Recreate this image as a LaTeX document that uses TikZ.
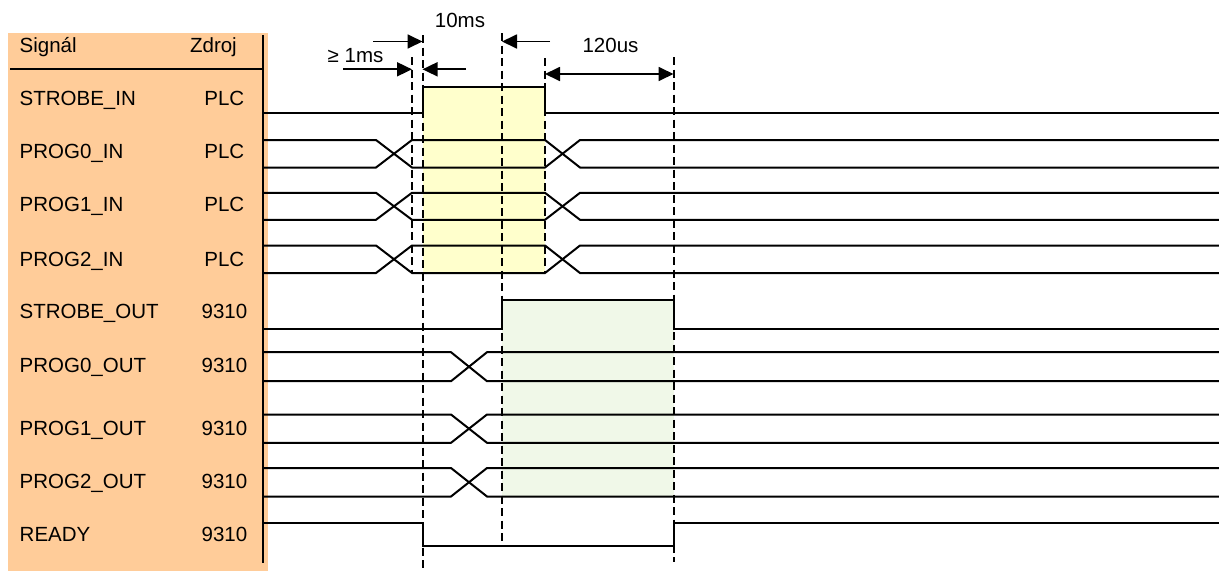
\documentclass[tikz,border=0pt]{standalone}
\usepackage{fontspec}
\setmainfont{Liberation Sans}
\usetikzlibrary{arrows.meta}
\definecolor{panel}{HTML}{FFCC99}
\definecolor{yfill}{HTML}{FFFFCC}
\definecolor{gfill}{RGB}{240,248,232}
\tikzset{
  sig/.style={line width=2pt, line join=miter},
  dash line/.style={line width=2pt, dash pattern=on 8pt off 4.5pt},
  lbl/.style={inner sep=0pt, anchor=base west, font=\fontsize{20.5}{24}\selectfont},
  src/.style={inner sep=0pt, anchor=base east, font=\fontsize{20.5}{24}\selectfont},
  tlbl/.style={inner sep=0pt, anchor=base, font=\fontsize{20.5}{24}\selectfont},
  dimarrow/.style={line width=1.8pt, -{Triangle[length=15pt,width=14pt]}},
  dimboth/.style={line width=1.8pt, {Triangle[length=15pt,width=14pt]}-{Triangle[length=15pt,width=14pt]}}
}
\begin{document}
\begin{tikzpicture}[x=1pt,y=-1pt]
\useasboundingbox (0,0) rectangle (1219,571);
% panel
\fill[panel] (8,33) rectangle (268,571);
\draw[line width=2pt] (10,69) -- (263,69);
\draw[line width=2.2pt] (263,35) -- (263,563);
% header
\node[lbl] (hsig) at (19.5,52) {Signál};
\node[src] (hsrc) at (237,52) {Zdroj};
% row labels
\node[lbl] (l1) at (19.5,105) {STROBE\_IN};
\node[lbl] (l2) at (19.5,158) {PROG0\_IN};
\node[lbl] (l3) at (19.5,211.5) {PROG1\_IN};
\node[lbl] (l4) at (19.5,266) {PROG2\_IN};
\node[lbl] (l5) at (19.5,318.5) {STROBE\_OUT};
\node[lbl] (l6) at (19.5,372) {PROG0\_OUT};
\node[lbl] (l7) at (19.5,435) {PROG1\_OUT};
\node[lbl] (l8) at (19.5,488) {PROG2\_OUT};
\node[lbl] (l9) at (19.5,541) {READY};
\node[src] (s1) at (244.5,105) {PLC};
\node[src] (s2) at (244.5,158) {PLC};
\node[src] (s3) at (244.5,211.5) {PLC};
\node[src] (s4) at (244.5,266) {PLC};
\node[src] (s5) at (247.5,318.5) {9310};
\node[src] (s6) at (247.5,372) {9310};
\node[src] (s7) at (247.5,435) {9310};
\node[src] (s8) at (247.5,488) {9310};
\node[src] (s9) at (247.5,541) {9310};
% fills
\fill[yfill] (422.5,86) rectangle (545,273);
\fill[gfill] (502,299.5) rectangle (673.5,497);
% STROBE_IN
\draw[sig] (263,112.8) -- (422.5,112.8) -- (422.5,86.5) -- (545,86.5) -- (545,113.3) -- (1219,113.3);
% input buses
\foreach \u/\l in {140/167.5, 192.8/219.8, 245.5/273} {
  \draw[sig] (263,\u) -- (376,\u) -- (412,\l) -- (545,\l) -- (580,\u) -- (1219,\u);
  \draw[sig] (263,\l) -- (376,\l) -- (412,\u) -- (545,\u) -- (580,\l) -- (1219,\l);
}
% STROBE_OUT
\draw[sig] (263,328.8) -- (502,328.8) -- (502,299.5) -- (673.5,299.5) -- (673.5,329) -- (1219,329);
% output buses
\foreach \u/\l in {352.2/381.2, 414.5/442.8, 468/496.5} {
  \draw[sig] (263,\u) -- (451,\u) -- (487,\l) -- (1219,\l);
  \draw[sig] (263,\l) -- (451,\l) -- (487,\u) -- (1219,\u);
}
% READY
\draw[sig] (263,522.7) -- (422.5,522.7) -- (422.5,546) -- (673.5,546) -- (673.5,522.7) -- (1219,522.7);
% dashed guides
\draw[dash line] (412,57) -- (412,273);
\draw[dash line] (422.5,35) -- (422.5,571);
\draw[dash line] (502,33) -- (502,547);
\draw[dash line] (545,58) -- (545,273);
\draw[dash line] (673.5,57) -- (673.5,562);
% dimension arrows
\coordinate (a1s) at (373,41.5);
\coordinate (a1e) at (422.5,41.5);
\coordinate (a2s) at (550,41.5);
\coordinate (a2e) at (502,41.5);
\coordinate (b1s) at (343,69.3);
\coordinate (b1e) at (412,69.3);
\coordinate (b2s) at (466,69.3);
\coordinate (b2e) at (422.5,69.3);
\coordinate (c1) at (545,74);
\coordinate (c2) at (673.5,74);
\draw[dimarrow] (a1s) -- (a1e);
\draw[dimarrow] (a2s) -- (a2e);
\draw[dimarrow] (b1s) -- (b1e);
\draw[dimarrow] (b2s) -- (b2e);
\draw[dimboth] (c1) -- (c2);
\node[tlbl] (t10) at (460,27) {10ms};
\node[lbl] (t1) at (327.5,62) {≥ 1ms};
\node[tlbl] (t120) at (610.5,52) {120us};
\end{tikzpicture}
\end{document}
